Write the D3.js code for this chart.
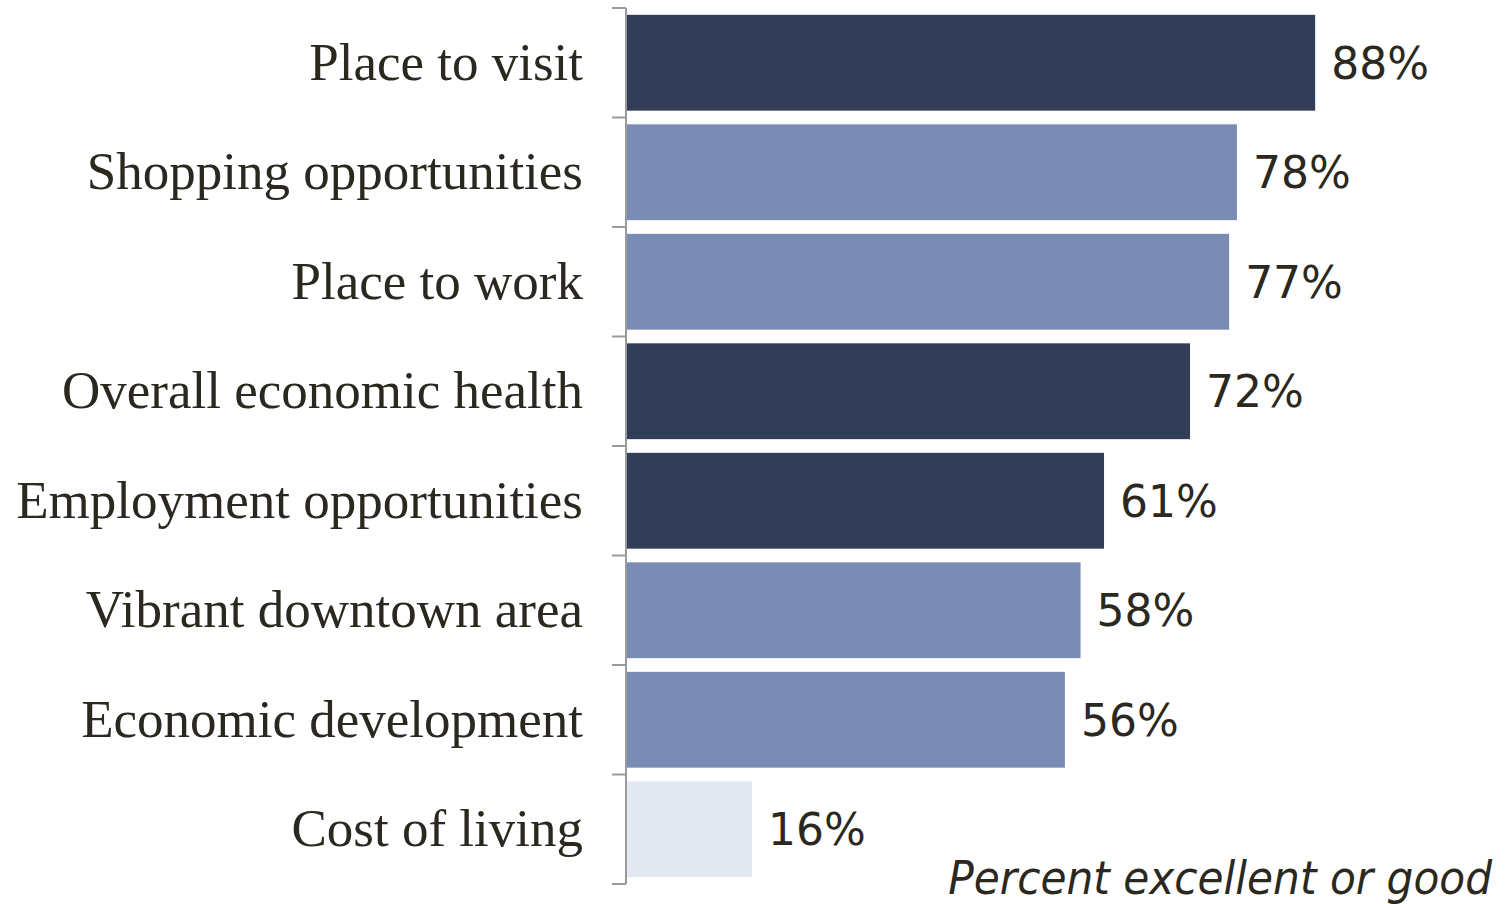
<!DOCTYPE html>
<html>
<head>
<meta charset="utf-8">
<script src="https://cdn.jsdelivr.net/npm/d3@7"></script>
<style>
  body { margin: 0; background: #fff; }
</style>
</head>
<body>
<svg id="chart"></svg>
<script>
// Data
const categories = [
  "Place to visit",
  "Shopping opportunities",
  "Place to work",
  "Overall economic health",
  "Employment opportunities",
  "Vibrant downtown area",
  "Economic development",
  "Cost of living"
];
const values = [88, 78, 77, 72, 61, 58, 56, 16];
const shades = ["dark", "mid", "mid", "dark", "dark", "mid", "mid", "light"];
const footnote = "Percent excellent or good";

const W = 1511, H = 904;
const shadeColor = { dark: "#323d58", mid: "#7a8cb4", light: "#e3e8f1" };
const textColor = "#2b2820";

const svg = d3.select("#chart")
  .attr("width", W)
  .attr("height", H);

const x = d3.scaleLinear()
  .domain([0, 100])
  .range([627, 627 + 782]);

const y = d3.scaleBand()
  .domain(categories)
  .range([8, 884])
  .paddingInner(0.125)
  .paddingOuter(0.0625);

const data = categories.map((c, i) => ({ cat: c, val: values[i], shade: shades[i] }));

// bars
svg.selectAll("rect.bar")
  .data(data)
  .enter()
  .append("rect")
  .attr("class", "bar")
  .attr("x", x(0))
  .attr("y", d => y(d.cat))
  .attr("width", d => x(d.val) - x(0))
  .attr("height", y.bandwidth())
  .attr("fill", d => shadeColor[d.shade]);

// axis line + ticks between bands
const axisX = 626;
const boundaries = d3.range(categories.length + 1).map(i => 8 + i * y.step());
svg.append("line")
  .attr("x1", axisX).attr("x2", axisX)
  .attr("y1", boundaries[0]).attr("y2", boundaries[boundaries.length - 1])
  .attr("stroke", "#9a9a9a")
  .attr("stroke-width", 2);
svg.selectAll("line.tick")
  .data(boundaries)
  .enter()
  .append("line")
  .attr("class", "tick")
  .attr("x1", 612).attr("x2", axisX)
  .attr("y1", d => d).attr("y2", d => d)
  .attr("stroke", "#9a9a9a")
  .attr("stroke-width", 2);

// category labels
svg.selectAll("text.cat")
  .data(data)
  .enter()
  .append("text")
  .attr("class", "cat")
  .attr("x", 583)
  .attr("y", d => y(d.cat) + y.bandwidth() / 2 + 17)
  .attr("text-anchor", "end")
  .style("font-family", "'Liberation Serif', 'Times New Roman', serif")
  .style("font-size", "53px")
  .style("fill", textColor)
  .text(d => d.cat);

// value labels
svg.selectAll("text.val")
  .data(data)
  .enter()
  .append("text")
  .attr("class", "val")
  .attr("x", d => x(d.val) + 16)
  .attr("y", d => y(d.cat) + y.bandwidth() / 2 + 16)
  .style("font-family", "'DejaVu Sans', Verdana, sans-serif")
  .style("font-size", "44px")
  .style("fill", textColor)
  .text(d => d.val + "%");

// footnote
svg.append("text")
  .attr("x", 1492)
  .attr("y", 894)
  .attr("text-anchor", "end")
  .style("font-family", "'DejaVu Sans Condensed', 'DejaVu Sans', sans-serif")
  .style("font-stretch", "condensed")
  .style("font-style", "italic")
  .style("font-size", "47px")
  .style("fill", textColor)
  .text(footnote);
</script>
</body>
</html>
